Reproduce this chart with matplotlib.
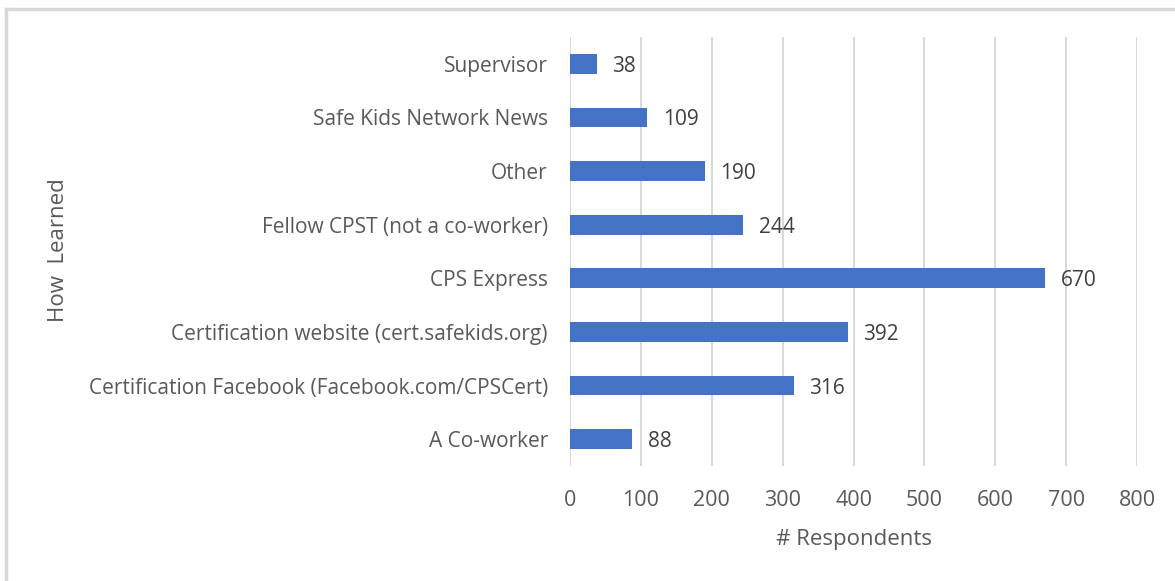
import matplotlib.pyplot as plt
from matplotlib.lines import Line2D

# dados
categorias = ["A Co-worker",
              "Certification Facebook (Facebook.com/CPSCert)",
              "Certification website (cert.safekids.org)",
              "CPS Express",
              "Fellow CPST (not a co-worker)",
              "Other",
              "Safe Kids Network News",
              "Supervisor"]
respondentes = [88, 316, 392, 670, 244, 190, 109, 38]
ticks_x = [0, 100, 200, 300, 400, 500, 600, 700, 800]

plt.rcParams['font.family'] = ['Open Sans', 'DejaVu Sans']
cinza = '#595959'

fig = plt.figure(figsize=(11.75, 5.81), dpi=100)
ax = fig.add_axes([570 / 1175, 1 - 466 / 581, 567 / 1175, 429 / 581])

barras = ax.barh(categorias, respondentes, height=0.37, color='#4472c4', zorder=3)
for b, v in zip(barras, respondentes):
    ax.text(b.get_width() + 22, b.get_y() + b.get_height() / 2, str(v),
            va='center_baseline', ha='left', fontsize=15, color='#404040')

ax.set_xlim(0, 800)
ax.set_ylim(-0.5, len(categorias) - 0.5)
ax.set_xticks(ticks_x)
ax.grid(axis='x', color='#d9d9d9', linewidth=1.5, zorder=0)
ax.tick_params(length=0, labelsize=15, labelcolor=cinza)
ax.tick_params(axis='x', labelsize=15.5, pad=17)
ax.tick_params(axis='y', pad=16)
for s in ax.spines.values():
    s.set_visible(False)

ax.set_xlabel('# Respondents', fontsize=16, color=cinza, labelpad=13)
fig.text(58 / 1175, 1 - 250 / 581, 'How  Learned', rotation=90, fontsize=16,
         color=cinza, ha='center', va='center')

# moldura cinza (só topo e esquerda aparecem)
fig.add_artist(Line2D([6 / 1175, 6 / 1175], [0, 1 - 9 / 581], color='#d9d9d9', linewidth=2.5))
fig.add_artist(Line2D([6 / 1175, 1], [1 - 9 / 581, 1 - 9 / 581], color='#d9d9d9', linewidth=2.5))

fig.savefig('out.png', dpi=100)
